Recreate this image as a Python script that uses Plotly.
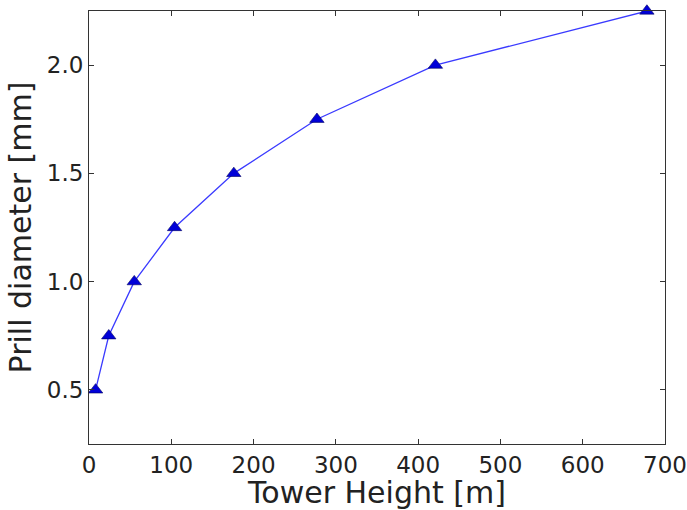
import plotly.graph_objects as go

tower_height = [8, 24, 55, 104, 176, 277, 421, 678]
prill_diameter = [0.5, 0.75, 1.0, 1.25, 1.5, 1.75, 2.0, 2.25]
x_ticks = [0, 100, 200, 300, 400, 500, 600, 700]
y_ticks = [0.5, 1.0, 1.5, 2.0]
y_tick_labels = ["0.5", "1.0", "1.5", "2.0"]

fig = go.Figure()
fig.add_trace(go.Scatter(
    x=tower_height, y=prill_diameter, mode="lines+markers",
    line=dict(color="#3a3aff", width=1.3),
    marker=dict(symbol="triangle-up", size=12.5, color="#0000d8",
                line=dict(color="#000060", width=0.6)),
    cliponaxis=False,
))

axis_common = dict(
    showgrid=False, zeroline=False, showline=True, linecolor="#333333", linewidth=1,
    mirror="ticks", ticks="inside", ticklen=5, tickcolor="#333333",
    tickfont=dict(family="DejaVu Sans", size=23, color="#222222"),
    automargin=False,
)
fig.update_xaxes(range=[0, 700], tickvals=x_ticks,
                 title=dict(text="Tower Height [m]", font=dict(family="DejaVu Sans", size=30, color="#222222"), standoff=9),
                 **axis_common)
fig.update_yaxes(range=[0.25, 2.25], tickvals=y_ticks, ticktext=y_tick_labels,
                 title=dict(text="Prill diameter [mm]", font=dict(family="DejaVu Sans", size=30, color="#222222"), standoff=6),
                 **axis_common)
fig.update_layout(
    width=687, height=510, plot_bgcolor="white", paper_bgcolor="white",
    margin=dict(l=89, r=22, t=11, b=66), showlegend=False,
)
fig.write_html("out.html", config={"displayModeBar": False},
               post_script="document.body.style.margin='0';")
